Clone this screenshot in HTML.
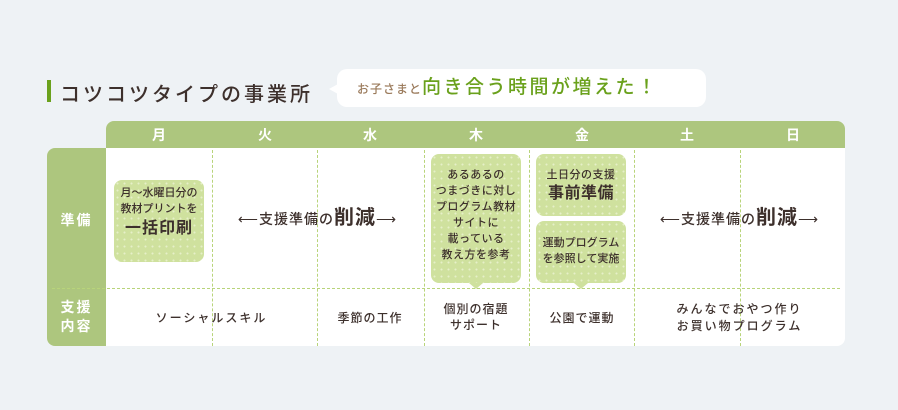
<!DOCTYPE html>
<html><head><meta charset="utf-8"><style>
body{margin:0;width:898px;height:410px;background:#eef2f5;position:relative;overflow:hidden;font-family:"Liberation Sans","Noto Sans CJK JP",sans-serif;color:#3d302c;font-weight:500}
.a{position:absolute}
.c{position:absolute;text-align:center}
.box{position:absolute;background-color:#cfe19e;background-image:radial-gradient(circle,#e6f0c8 0.8px,transparent 1.2px);background-size:7px 7px;border-radius:8px;text-align:center;font-size:11px;line-height:16px;letter-spacing:0.5px}
.vd{position:absolute;top:150px;height:196px;border-left:1px dashed #b8d47a}
.hd{font-weight:bold;font-size:14px;color:#fff}
</style></head><body>
<div class="a" style="left:47px;top:80px;width:4px;height:22px;background:#6aa11c"></div>
<div class="a" style="left:60px;top:78px;font-size:20px;letter-spacing:3px">コツコツタイプの事業所</div>
<div class="a" style="left:337px;top:69px;width:369px;height:38px;background:#fff;border-radius:10px"></div>
<div class="a" style="left:329px;top:84px;width:0;height:0;border-top:5px solid transparent;border-bottom:5px solid transparent;border-right:9px solid #fff"></div>
<div class="a" style="left:357px;top:78px;font-size:12px;color:#9b7b5c;letter-spacing:1px;line-height:20px">お子さまと<span style="font-size:19px;color:#6aa11c;letter-spacing:2.5px">向き合う時間が増えた！</span></div>
<div class="a" style="left:106px;top:121px;width:739px;height:27px;background:#adc67e;border-radius:8px 8px 0 0"></div>
<div class="a" style="left:47px;top:148px;width:59px;height:198px;background:#adc67e;border-radius:8px 0 0 8px"></div>
<div class="a" style="left:106px;top:148px;width:739px;height:198px;background:#fff;border-radius:0 0 8px 0"></div>
<div class="c hd" style="left:106px;top:125px;width:106px">月</div>
<div class="c hd" style="left:212px;top:125px;width:106px">火</div>
<div class="c hd" style="left:317px;top:125px;width:106px">水</div>
<div class="c hd" style="left:423px;top:125px;width:106px">木</div>
<div class="c hd" style="left:529px;top:125px;width:106px">金</div>
<div class="c hd" style="left:634px;top:125px;width:106px">土</div>
<div class="c hd" style="left:740px;top:125px;width:106px">日</div>
<div class="c hd" style="left:47px;top:210px;width:59px;letter-spacing:2px">準備</div>
<div class="c hd" style="left:47px;top:298px;width:59px;line-height:19px;letter-spacing:2px">支援<br>内容</div>
<div class="vd" style="left:212px"></div><div class="vd" style="left:317px"></div><div class="vd" style="left:424px"></div><div class="vd" style="left:529px"></div><div class="vd" style="left:634px"></div><div class="vd" style="left:740px"></div>
<div class="a" style="left:52px;top:288px;width:788px;border-top:1px dashed #b8d47a"></div>
<div class="box" style="left:114px;top:180px;width:90px;height:82px;padding-top:5px;box-sizing:border-box;letter-spacing:0">月～水曜日分の<br>教材プリントを<br><span style="font-size:16px;font-weight:bold;line-height:24px;letter-spacing:1px">一括印刷</span></div>
<div class="box" style="left:431px;top:154px;width:90px;height:129px;padding-top:13px;box-sizing:border-box;letter-spacing:0.5px">あるあるの<br>つまづきに対し<br>プログラム教材<br>サイトに<br>載っている<br>教え方を参考</div>
<div class="a" style="left:469px;top:283px;border-left:7px solid transparent;border-right:7px solid transparent;border-top:6px solid #cfe19e"></div>
<div class="box" style="left:536px;top:154px;width:90px;height:62px;padding-top:13px;box-sizing:border-box">土日分の支援<br><span style="font-size:16px;font-weight:bold;line-height:22px">事前準備</span></div>
<div class="box" style="left:536px;top:221px;width:90px;height:62px;padding-top:14px;box-sizing:border-box;letter-spacing:0">運動プログラム<br>を参照して実施</div>
<div class="a" style="left:574px;top:283px;border-left:7px solid transparent;border-right:7px solid transparent;border-top:6px solid #cfe19e"></div>
<div class="c" style="left:212px;top:205px;width:211px;font-size:14px;line-height:26px;letter-spacing:1px">⟵支援準備の<span style="font-size:20px;font-weight:bold">削減</span>⟶</div>
<div class="c" style="left:634px;top:205px;width:211px;font-size:14px;line-height:26px;letter-spacing:1px">⟵支援準備の<span style="font-size:20px;font-weight:bold">削減</span>⟶</div>
<div class="c" style="left:106px;top:309px;width:211px;font-size:12px;letter-spacing:2px">ソーシャルスキル</div>
<div class="c" style="left:317px;top:309px;width:106px;font-size:12px;letter-spacing:1px">季節の工作</div>
<div class="c" style="left:423px;top:301px;width:106px;font-size:12px;line-height:16px;letter-spacing:1px">個別の宿題<br>サポート</div>
<div class="c" style="left:529px;top:309px;width:106px;font-size:12px;letter-spacing:1px">公園で運動</div>
<div class="c" style="left:634px;top:301px;width:211px;font-size:12px;line-height:17px;letter-spacing:2px">みんなでおやつ作り<br>お買い物プログラム</div>
</body></html>
